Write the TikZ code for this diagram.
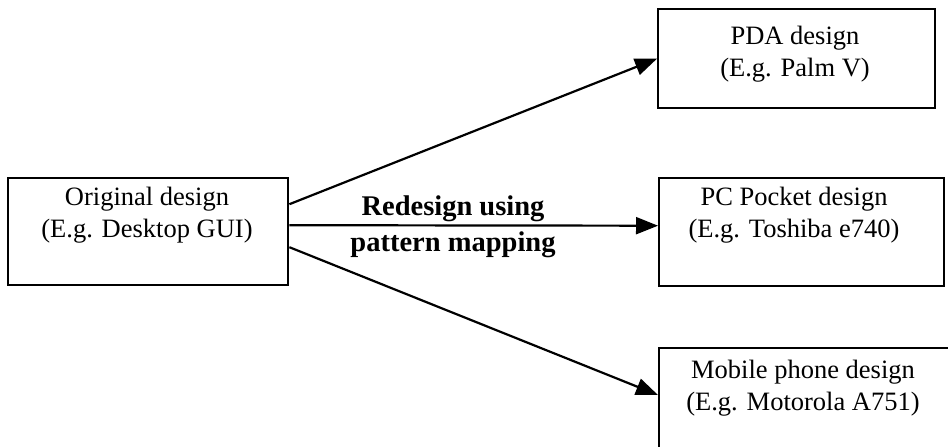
\documentclass[tikz,border=0pt]{standalone}
\usepackage{fontspec}
\setmainfont{Liberation Serif}
\usetikzlibrary{arrows.meta,positioning}

\begin{document}
\begin{tikzpicture}[x=1pt,y=-1pt,
  box/.style={draw,line width=2.4pt,rectangle,inner sep=0pt},
  boxtext/.style={align=center,font=\fontsize{26.5}{32}\selectfont,inner sep=0pt},
  flow/.style={line width=2.2pt,-{Triangle[length=22pt,width=17pt]}},
  note/.style={align=center,font=\fontsize{28.5}{36}\selectfont\bfseries,inner sep=0pt}]
\useasboundingbox (0,0) rectangle (948,447);
\clip (0,0) rectangle (948,447);

% boxes
\node[box,minimum width=280pt,minimum height=107pt,anchor=north west] (orig) at (7,177) {};
\node[box,minimum width=277pt,minimum height=99pt,anchor=north west] (pda) at (657,8) {};
\node[box,minimum width=285pt,minimum height=108pt,anchor=north west] (pc) at (658,177) {};
\node[box,minimum width=310pt,minimum height=130pt,anchor=north west] (mob) at (658,347) {};

% box captions (anchored on the baseline of the second line)
\node[boxtext,anchor=base] (origT) at (147,237) {Original design\\(E.g. Desktop GUI)};
\node[boxtext,anchor=base] (pdaT) at (795,76) {PDA design\\(E.g. Palm V)};
\node[boxtext,anchor=base] (pcT) at (794,237) {PC Pocket design\\(E.g. Toshiba e740)};
\node[boxtext,anchor=base] (mobT) at (803,410) {Mobile phone design\\(E.g. Motorola A751)};

% connectors
\draw[flow] ([yshift=27.5pt]orig.east) -- (pda.west);
\draw[flow] ([yshift=6.5pt]orig.east) -- ([yshift=6.5pt]pc.west);
\draw[flow] ([yshift=-15.5pt]orig.east) -- ([yshift=-48pt]mob.north west);

% label of the middle arrow
\node[note,anchor=base] (lab) at (453,251) {Redesign using\\pattern mapping};
\end{tikzpicture}
\end{document}
